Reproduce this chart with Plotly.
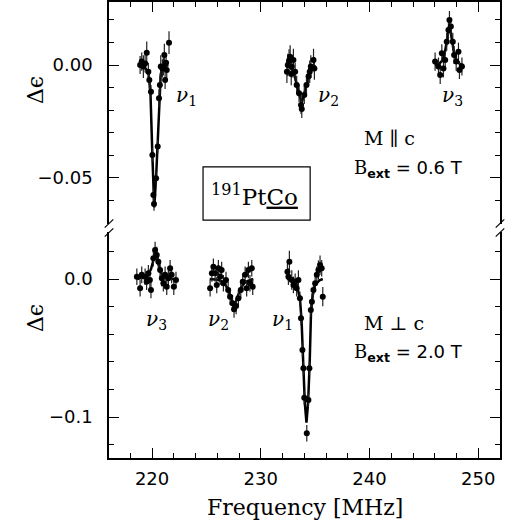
import plotly.graph_objects as go

# ---------------- upper panel: M || c, B_ext = 0.6 T ----------------
top_nu1_f = [218.9, 219.05, 219.2, 219.36, 219.51, 219.66, 219.75, 219.9, 220.03, 220.12, 220.18,
             220.37, 220.52, 220.64, 220.72, 220.8, 220.95, 221.04, 221.13, 221.2, 221.29, 221.35, 221.56]
top_nu1_v = [0.0, 0.0015, -0.0007, 0.0007, 0.0054, -0.003, -0.0066, -0.0118, -0.0398, -0.0575, -0.0615,
             -0.0501, -0.0361, -0.0147, -0.0088, -0.0007, -0.0015, -0.0007, 0.0044, -0.0066, 0.001, -0.0022, 0.0099]
top_nu1_e = [0.004, 0.004, 0.005, 0.004, 0.005, 0.004, 0.004, 0.003, 0.003, 0.003, 0.003,
             0.003, 0.003, 0.004, 0.004, 0.005, 0.004, 0.004, 0.005, 0.004, 0.004, 0.004, 0.005]
top_nu1_fit_f = [218.9, 219.3, 219.66, 219.85, 220.03, 220.2, 220.37, 220.5, 220.65, 220.8, 221.0, 221.5]
top_nu1_fit_v = [0.0, -0.001, -0.003, -0.012, -0.040, -0.063, -0.050, -0.036, -0.015, -0.004, -0.001, 0.0]

top_nu2_f = [232.4, 232.48, 232.6, 232.7, 232.8, 232.85, 233.0, 233.16, 233.3, 233.52, 233.7, 233.77,
             234.0, 234.2, 234.4, 234.5, 234.6, 234.85, 234.93]
top_nu2_v = [-0.003, 0.0, 0.002, 0.0037, -0.004, -0.0007, 0.0022, -0.003, -0.0088, -0.0125, -0.0177, -0.0195,
             -0.0133, -0.0088, -0.005, -0.003, -0.0007, 0.0022, -0.0015]
top_nu2_e = [0.005, 0.005, 0.005, 0.005, 0.005, 0.005, 0.005, 0.004, 0.004, 0.004, 0.004, 0.004,
             0.004, 0.004, 0.004, 0.005, 0.005, 0.005, 0.005]
top_nu2_fit_f = [232.3, 232.7, 233.0, 233.3, 233.55, 233.75, 234.0, 234.25, 234.5, 234.8, 235.0]
top_nu2_fit_v = [0.0, -0.001, -0.003, -0.008, -0.013, -0.017, -0.013, -0.008, -0.004, -0.001, 0.0]

top_nu3_f = [246.03, 246.34, 246.5, 246.65, 246.8, 246.96, 247.1, 247.26, 247.35, 247.48, 247.66,
             247.78, 247.97, 248.18, 248.27, 248.5]
top_nu3_v = [0.0015, -0.0007, -0.0044, 0.0052, -0.0015, 0.0022, 0.0103, 0.0155, 0.0199, 0.017, 0.0103,
             0.0044, 0.0015, 0.0059, -0.0022, -0.0007]
top_nu3_e = [0.004] * 16
top_nu3_fit_f = [246.0, 246.4, 246.7, 246.95, 247.15, 247.35, 247.55, 247.75, 248.0, 248.3, 248.6]
top_nu3_fit_v = [0.0, 0.0005, 0.002, 0.006, 0.012, 0.018, 0.012, 0.006, 0.002, 0.0005, 0.0]

# ---------------- lower panel: M ⊥ c, B_ext = 2.0 T ----------------
bot_nu3_f = [218.6, 218.9, 219.05, 219.36, 219.5, 219.66, 219.8, 219.9, 220.12, 220.28, 220.43,
             220.58, 220.74, 220.9, 221.04, 221.2, 221.35, 221.5, 221.66, 221.8, 222.0, 222.2]
bot_nu3_v = [0.0017, -0.0067, 0.003, 0.0017, -0.002, 0.0041, -0.0007, -0.008, 0.015, 0.021, 0.0174,
             0.0125, 0.0065, 0.0005, -0.0031, 0.003, -0.0056, 0.0005, 0.0078, 0.003, -0.0056, -0.0007]
bot_nu3_e = [0.006] * 22
bot_nu3_fit_f = [218.6, 219.2, 219.6, 219.9, 220.1, 220.3, 220.5, 220.7, 220.9, 221.3, 221.8, 222.2]
bot_nu3_fit_v = [0.0, 0.001, 0.003, 0.007, 0.013, 0.018, 0.013, 0.007, 0.003, 0.001, 0.0, 0.0]

bot_nu2_f = [225.34, 225.5, 225.64, 225.8, 225.95, 226.1, 226.26, 226.4, 226.56, 226.8, 227.0, 227.18,
             227.4, 227.54, 227.73, 227.94, 228.16, 228.34, 228.56, 228.7, 228.86, 229.0, 229.17, 229.26]
bot_nu2_v = [-0.0067, 0.0041, 0.0089, 0.0041, -0.0043, 0.0078, 0.0017, 0.0065, -0.0031, -0.0007, -0.008, -0.0128,
             -0.0176, -0.022, -0.0196, -0.014, -0.008, -0.002, 0.003, -0.0067, 0.0065, -0.0031, 0.0078, -0.0056]
bot_nu2_e = [0.006] * 24
bot_nu2_fit_f = [225.3, 226.0, 226.5, 226.9, 227.2, 227.55, 227.9, 228.2, 228.6, 229.3]
bot_nu2_fit_v = [0.0, -0.0005, -0.002, -0.006, -0.012, -0.020, -0.012, -0.006, -0.002, 0.0]

bot_nu1_f = [232.45, 232.54, 232.63, 232.85, 233.0, 233.16, 233.3, 233.46, 233.6, 233.7, 233.83, 233.92,
             234.0, 234.23, 234.38, 234.47, 234.6, 234.7, 234.84, 235.0, 235.15, 235.3, 235.45, 235.6, 235.7]
bot_nu1_v = [0.0053, 0.0017, 0.0125, -0.0007, -0.0043, -0.002, -0.0067, -0.0007, -0.014, -0.0285, -0.0515, -0.0647,
             -0.086, -0.1118, -0.0877, -0.0647, -0.0225, -0.0164, -0.008, -0.0031, 0.003, 0.0065, 0.0101, 0.0078, -0.0128]
bot_nu1_e = [0.006, 0.006, 0.008, 0.007, 0.006, 0.006, 0.006, 0.007, 0.005, 0.005, 0.005, 0.005,
             0.005, 0.006, 0.005, 0.005, 0.005, 0.006, 0.006, 0.006, 0.006, 0.007, 0.007, 0.006, 0.007]
bot_nu1_fit_f = [232.45, 232.9, 233.3, 233.6, 233.75, 233.9, 234.05, 234.2, 234.35, 234.5, 234.62, 234.75,
                 235.0, 235.4, 235.7]
bot_nu1_fit_v = [0.0, -0.001, -0.004, -0.014, -0.030, -0.062, -0.090, -0.104, -0.090, -0.060, -0.024, -0.013,
                 -0.004, -0.001, 0.0]

X_RANGE = [216.04, 252.0]
TOP_RANGE = [-0.07035, 0.02788]
BOT_RANGE = [-0.1297, 0.03406]

SERIF = "DejaVu Serif"
SANS = "DejaVu Sans"

fig = go.Figure()


def add_peak(f, v, e, fit_f, fit_v, xa, ya):
    fig.add_trace(go.Scatter(x=fit_f, y=fit_v, mode="lines", xaxis=xa, yaxis=ya,
                             line=dict(color="black", width=2.5), hoverinfo="skip"))
    fig.add_trace(go.Scatter(x=f, y=v, mode="markers", xaxis=xa, yaxis=ya,
                             marker=dict(color="black", size=6),
                             error_y=dict(type="data", array=e, visible=True,
                                          color="#222222", thickness=1.2, width=0)))


add_peak(top_nu1_f, top_nu1_v, top_nu1_e, top_nu1_fit_f, top_nu1_fit_v, "x2", "y2")
add_peak(top_nu2_f, top_nu2_v, top_nu2_e, top_nu2_fit_f, top_nu2_fit_v, "x2", "y2")
add_peak(top_nu3_f, top_nu3_v, top_nu3_e, top_nu3_fit_f, top_nu3_fit_v, "x2", "y2")
add_peak(bot_nu3_f, bot_nu3_v, bot_nu3_e, bot_nu3_fit_f, bot_nu3_fit_v, "x", "y")
add_peak(bot_nu2_f, bot_nu2_v, bot_nu2_e, bot_nu2_fit_f, bot_nu2_fit_v, "x", "y")
add_peak(bot_nu1_f, bot_nu1_v, bot_nu1_e, bot_nu1_fit_f, bot_nu1_fit_v, "x", "y")

TOP_DOMAIN = [0.5132, 1.0]
BOT_DOMAIN = [0.0, 0.4956]

axis_common = dict(showgrid=False, zeroline=False, showline=True, linecolor="black", linewidth=1.5,
                   ticks="inside", tickcolor="black", tickwidth=1.2)
minor_common = dict(ticklen=5, ticks="inside", tickcolor="black", tickwidth=1.2)
tick_font = dict(family=SANS, size=18, color="black")

fig.update_layout(
    width=509, height=527,
    margin=dict(l=109, r=9, t=2, b=69),
    paper_bgcolor="white", plot_bgcolor="white",
    showlegend=False,
    xaxis=dict(axis_common, range=X_RANGE, domain=[0, 1], anchor="y", side="bottom",
               tick0=220, dtick=10, ticklen=10, mirror=False,
               minor=dict(minor_common, dtick=2, tick0=220),
               tickfont=tick_font, ticklabelstandoff=4),
    xaxis2=dict(axis_common, range=X_RANGE, domain=[0, 1], anchor="y2", side="top",
                tick0=220, dtick=10, ticklen=10, mirror=False, showticklabels=False,
                minor=dict(minor_common, dtick=2, tick0=220)),
    yaxis=dict(axis_common, range=BOT_RANGE, domain=BOT_DOMAIN, anchor="x",
               tick0=0, dtick=0.1, tickformat=".1f", ticklen=10, mirror="ticks",
               minor=dict(minor_common, dtick=0.02, tick0=0),
               tickfont=tick_font, ticklabelstandoff=11),
    yaxis2=dict(axis_common, range=TOP_RANGE, domain=TOP_DOMAIN, anchor="x2",
                tick0=0, dtick=0.05, tickformat=".2f", ticklen=10, mirror="ticks",
                minor=dict(minor_common, dtick=0.01, tick0=0),
                tickfont=tick_font, ticklabelstandoff=11),
)

# axis break marks on both vertical frame edges
for xp in (0.0, 1.0):
    for yp in (0.5142, 0.4946):
        fig.add_shape(type="line", xref="paper", yref="paper",
                      x0=xp - 0.011, y0=yp - 0.009, x1=xp + 0.011, y1=yp + 0.009,
                      line=dict(color="black", width=1.2))

# sample label box
fig.add_shape(type="rect", xref="x2", yref="y2", x0=224.69, x1=234.54, y0=-0.0686, y1=-0.0451,
              line=dict(color="black", width=1.2), fillcolor="rgba(0,0,0,0)")

NU = "<i>\u03bd</i><sub>{}</sub>"


def label(text, x, y, xref, yref, size, family=SERIF, xanchor="center"):
    fig.add_annotation(text=text, x=x, y=y, xref=xref, yref=yref, showarrow=False,
                       xanchor=xanchor, yanchor="middle",
                       font=dict(family=family, size=size, color="black"))


# transition labels
label(NU.format(1), 223.13, -0.0137, "x2", "y2", 20)
label(NU.format(2), 236.19, -0.0137, "x2", "y2", 20)
label(NU.format(3), 247.6, -0.0137, "x2", "y2", 20)
label(NU.format(3), 220.37, -0.0297, "x", "y", 20)
label(NU.format(2), 226.07, -0.0297, "x", "y", 20)
label(NU.format(1), 231.96, -0.0297, "x", "y", 20)

BEXT = ("B<sub><span style='font-family:DejaVu Sans;font-weight:bold'>ext</span></sub>"
        "<span style='font-family:DejaVu Sans'> = {} T</span>")

label("M \u2225 c", 239.32, -0.0323, "x2", "y2", 19, xanchor="left")
label(BEXT.format("0.6"), 238.4, -0.046, "x2", "y2", 18, xanchor="left")
label("M \u22a5 c", 239.32, -0.0322, "x", "y", 19, xanchor="left")
label(BEXT.format("2.0"), 238.4, -0.0536, "x", "y", 18, xanchor="left")

label("<sup>191</sup>Pt<u>Co</u>", 229.45, -0.0575, "x2", "y2", 23)

# axis titles
label("Frequency [MHz]", 0.5, -0.1096, "paper", "paper", 22)
for yp in (0.807, 0.307):
    fig.add_annotation(text="\u0394\u03f5", x=-0.189, y=yp, xref="paper", yref="paper",
                       showarrow=False, textangle=-90, xanchor="center", yanchor="middle",
                       font=dict(family=SERIF, size=22, color="black"))

fig.write_html("out.html")
